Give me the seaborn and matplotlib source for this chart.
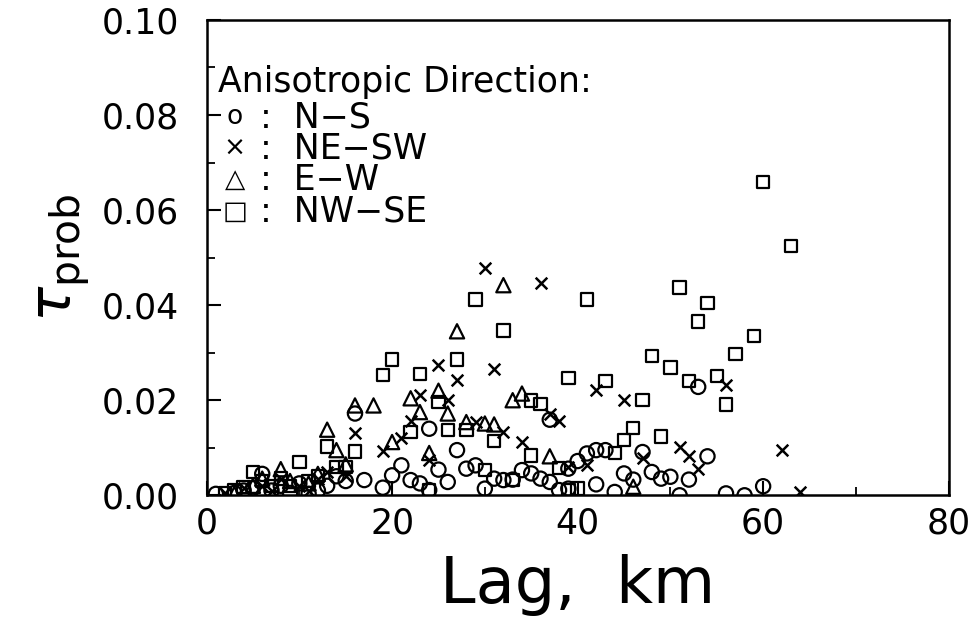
import numpy as np
import pandas as pd
import matplotlib
matplotlib.use('Agg')
import matplotlib.pyplot as plt
import seaborn as sns

# lag (km) and tau_prob values, per anisotropic direction
ns_lag = [1, 3, 4, 5, 6, 7, 8, 9, 10, 11, 12, 13, 14, 15, 16, 17, 19, 20, 21, 22,
          23, 24, 24, 25, 26, 27, 28, 29, 30, 31, 32, 33, 34, 35, 36, 37, 37, 38, 39, 39,
          40, 41, 42, 43, 42, 44, 45, 46, 47, 48, 49, 50, 51, 52, 53, 54, 56, 58, 60]
ns_tau = [0.0003, 0.0005, 0.0010, 0.0015, 0.0045, 0.0010, 0.0020, 0.0005, 0.0025, 0.0003,
          0.0010, 0.0020, 0.0040, 0.0030, 0.0172, 0.0032, 0.0016, 0.0042, 0.0063, 0.0032,
          0.0025, 0.0140, 0.0011, 0.0054, 0.0028, 0.0095, 0.0056, 0.0063, 0.0014, 0.0035,
          0.0032, 0.0033, 0.0053, 0.0046, 0.0035, 0.0028, 0.0159, 0.0011, 0.0014, 0.0056,
          0.0072, 0.0088, 0.0095, 0.0095, 0.0023, 0.0007, 0.0046, 0.0033, 0.0091, 0.0049,
          0.0035, 0.0039, 0.0000, 0.0033, 0.0228, 0.0082, 0.0004, 0.0000, 0.0019]

nesw_lag = [2, 4, 6, 7, 8, 10, 11, 12, 13, 15, 16, 19, 21, 22, 23, 24, 25, 26, 27, 29,
            30, 31, 32, 34, 36, 37, 38, 39, 41, 42, 45, 47, 51, 52, 53, 56, 62, 64]
nesw_tau = [0.0005, 0.0015, 0.0020, 0.0010, 0.0035, 0.0020, 0.0010, 0.0035, 0.0050, 0.0040,
            0.0132, 0.0093, 0.0120, 0.0156, 0.0211, 0.0075, 0.0274, 0.0200, 0.0242, 0.0154,
            0.0479, 0.0265, 0.0133, 0.0112, 0.0446, 0.0172, 0.0156, 0.0060, 0.0063, 0.0222,
            0.0200, 0.0078, 0.0102, 0.0082, 0.0056, 0.0232, 0.0096, 0.0007]

ew_lag = [3, 5, 6, 8, 9, 11, 12, 13, 14, 15, 16, 18, 20, 22, 23, 24, 25, 26, 27, 28,
          30, 31, 32, 33, 34, 37, 46]
ew_tau = [0.0003, 0.0020, 0.0035, 0.0055, 0.0030, 0.0025, 0.0045, 0.0138, 0.0095, 0.0065,
          0.0189, 0.0189, 0.0112, 0.0204, 0.0175, 0.0089, 0.0220, 0.0172, 0.0345, 0.0154,
          0.0151, 0.0149, 0.0442, 0.0200, 0.0214, 0.0082, 0.0018]

nwse_lag = [2, 3, 4, 5, 6, 7, 8, 9, 10, 11, 12, 13, 14, 15, 16, 19, 20, 22, 23, 24,
            25, 26, 27, 28, 29, 30, 31, 32, 33, 35, 35, 36, 38, 39, 39, 40, 41, 43, 44, 45,
            46, 47, 48, 49, 50, 51, 52, 53, 54, 55, 56, 57, 59, 60, 63]
nwse_tau = [0.0005, 0.0010, 0.0017, 0.0049, 0.0030, 0.0020, 0.0035, 0.0020, 0.0070, 0.0030,
            0.0040, 0.0103, 0.0060, 0.0060, 0.0092, 0.0253, 0.0286, 0.0133, 0.0255, 0.0011,
            0.0196, 0.0137, 0.0286, 0.0137, 0.0412, 0.0053, 0.0114, 0.0347, 0.0032, 0.0084,
            0.0199, 0.0192, 0.0058, 0.0247, 0.0011, 0.0014, 0.0412, 0.0241, 0.0089, 0.0116,
            0.0142, 0.0200, 0.0293, 0.0124, 0.0269, 0.0437, 0.0241, 0.0366, 0.0404, 0.0251,
            0.0191, 0.0297, 0.0335, 0.0659, 0.0524]

legend_title = "Anisotropic Direction:"
legend_symbols = ["o", "\u00d7", "\u25b3", "\u25a1"]
legend_names = ["N\u2212S", "NE\u2212SW", "E\u2212W", "NW\u2212SE"]

sns.set_style("ticks")
plt.rcParams['font.family'] = ['DejaVu Sans']
plt.rcParams['text.color'] = 'black'
plt.rcParams['axes.labelcolor'] = 'black'
plt.rcParams['xtick.color'] = 'black'
plt.rcParams['ytick.color'] = 'black'

fig = plt.figure(figsize=(9.79, 6.23), dpi=100)
ax = fig.add_axes([0.211, 0.205, 0.758, 0.763])

sns.scatterplot(x=ns_lag, y=ns_tau, marker='o', s=105, facecolors='none',
                edgecolor='black', linewidth=1.6, ax=ax)
sns.scatterplot(x=nesw_lag, y=nesw_tau, marker='x', s=70, color='black',
                linewidth=1.8, ax=ax)
sns.scatterplot(x=ew_lag, y=ew_tau, marker='^', s=105, facecolors='none',
                edgecolor='black', linewidth=1.6, ax=ax)
sns.scatterplot(x=nwse_lag, y=nwse_tau, marker='s', s=80, facecolors='none',
                edgecolor='black', linewidth=1.6, ax=ax)

ax.set_xlim(0, 80)
ax.set_ylim(0, 0.10)
ax.set_xticks([0, 20, 40, 60, 80])
ax.set_xticks([10, 30, 50, 70], minor=True)
ax.set_yticks([0.0, 0.02, 0.04, 0.06, 0.08, 0.10])
ax.set_yticks([0.01, 0.03, 0.05, 0.07, 0.09], minor=True)
ax.set_yticklabels(['0.00', '0.02', '0.04', '0.06', '0.08', '0.10'])
ax.tick_params(which='major', direction='in', length=10, width=1.5, labelsize=25)
ax.tick_params(which='minor', direction='in', length=6, width=1.3)
ax.tick_params(axis='y', pad=20)
ax.tick_params(axis='x', top=False, pad=8)
for sp in ax.spines.values():
    sp.set_linewidth(1.8)
    sp.set_color('black')

ax.set_xlabel("Lag,  km", fontsize=46, labelpad=10)
ax.set_ylabel(r"$\tau_{\rm prob}$", fontsize=42, labelpad=6)

ax.text(0.015, 0.87, legend_title, transform=ax.transAxes, fontsize=25, va='center')
for i, (sym, name) in enumerate(zip(legend_symbols, legend_names)):
    yy = 0.795 - i * 0.066
    ax.text(0.038, yy, sym, transform=ax.transAxes, fontsize=19, va='center', ha='center')
    ax.text(0.072, yy, ":  " + name, transform=ax.transAxes, fontsize=25, va='center')

fig.savefig("out.png", dpi=100)
